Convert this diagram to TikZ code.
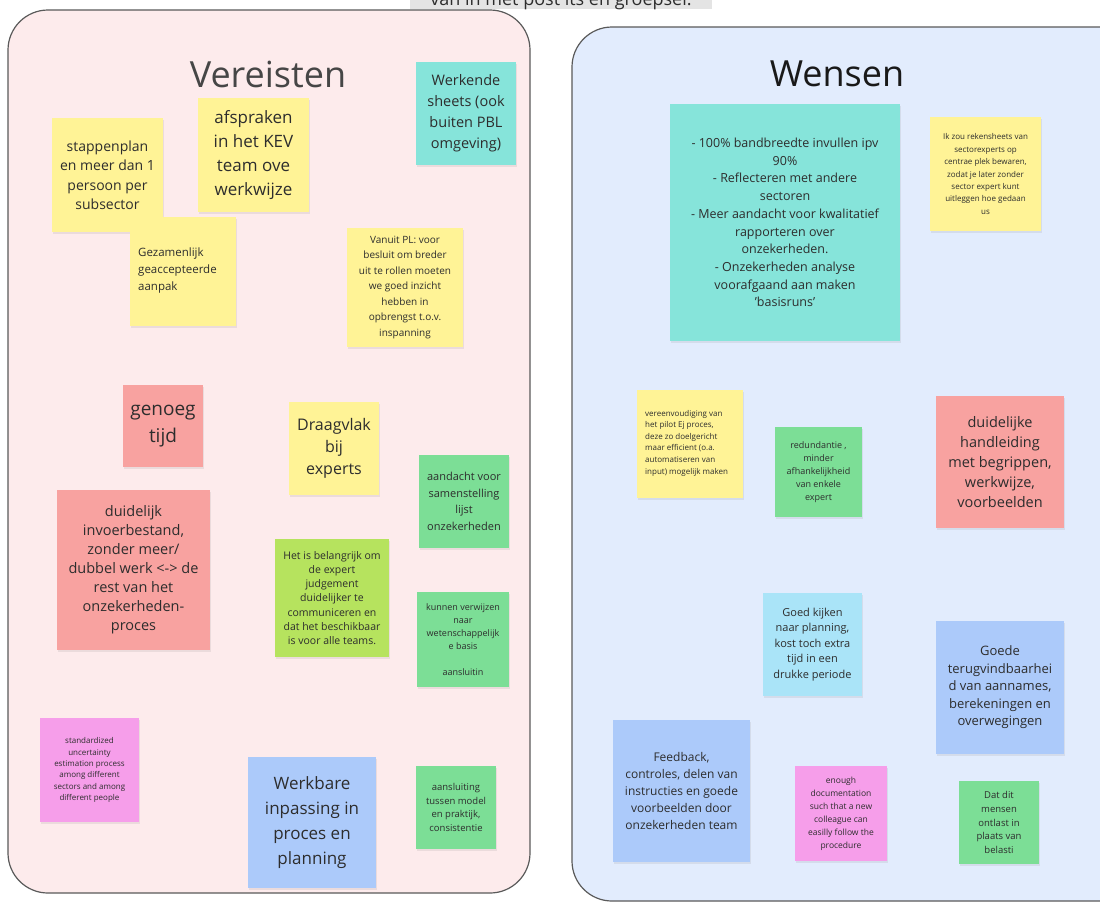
\documentclass[tikz,border=0pt]{standalone}
\usepackage{fontspec}
\setmainfont{Open Sans}
\usetikzlibrary{shadows}

\definecolor{pinkbg}{RGB}{253,235,236}
\definecolor{bluebg}{RGB}{226,236,253}
\definecolor{panelline}{RGB}{90,90,90}
\definecolor{ink}{RGB}{45,45,45}
\definecolor{styellow}{RGB}{255,243,150}
\definecolor{stteal}{RGB}{134,228,218}
\definecolor{stsalmon}{RGB}{248,162,160}
\definecolor{stgreen}{RGB}{124,222,150}
\definecolor{stlime}{RGB}{182,227,94}
\definecolor{stpink}{RGB}{246,158,234}
\definecolor{stblue}{RGB}{172,202,250}
\definecolor{stcyan}{RGB}{170,228,248}
\definecolor{bandgray}{RGB}{228,228,228}

\newcommand{\fs}[2]{\fontsize{#1}{#2}\selectfont}

\tikzset{
  panel/.style={draw=panelline, line width=1.2pt, rounded corners=40pt},
  sticky/.style={draw=none, inner sep=0pt, align=center, text=ink,
    drop shadow={shadow xshift=0.6pt, shadow yshift=-2pt, opacity=0.14}},
  title/.style={font=\fs{36}{40}}
}

\begin{document}
\begin{tikzpicture}[x=1pt, y=-1pt]
\useasboundingbox (0,0) rectangle (1100,903);
\clip (0,0) rectangle (1100,903);
\fill[white] (0,0) rectangle (1100,903);

% caption strip at the top edge
\fill[bandgray] (410,-12) rectangle (712,9);
\node[anchor=base, text=ink, font=\fs{18}{20}] (caption) at (561,5) {van in met post its en groepsel.};

% the two panels
\draw[panel, fill=pinkbg] (8,10) rectangle (530,893);
\draw[panel, fill=bluebg] (572,27) rectangle (1150,901);

\node[title, text={rgb,255:red,70;green,70;blue,70}] (tv) at (268,74) {Vereisten};
\node[title, text={rgb,255:red,25;green,25;blue,25}] (tw) at (837,74) {Wensen};

% ---- Vereisten ----
\node[sticky, fill=styellow, minimum width=111, minimum height=114, font=\fs{14}{19.5}] (v1) at (107.5,175)
  {stappenplan\\en meer dan 1\\persoon per\\subsector};
\node[sticky, fill=styellow, minimum width=111, minimum height=114, font=\fs{17}{24}] (v2) at (253.5,155)
  {afspraken\\in het KEV\\team ove\\werkwijze};
\node[sticky, fill=styellow, minimum width=106, minimum height=109] (v3) at (183,271.5) {};
\node[anchor=west, align=left, text=ink, font=\fs{11.5}{17}, inner sep=0pt] (v3t) at (138,271)
  {Gezamenlijk\\geaccepteerde\\aanpak};
\node[sticky, fill=stteal, minimum width=100, minimum height=103, font=\fs{14.5}{21}] (v4) at (466,113.5)
  {Werkende\\sheets (ook\\buiten PBL\\omgeving)};
\node[sticky, fill=styellow, minimum width=116, minimum height=119, font=\fs{10}{15.5}] (v5) at (405,287.5)
  {Vanuit PL: voor\\besluit om breder\\uit te rollen moeten\\we goed inzicht\\hebben in\\opbrengst t.o.v.\\inspanning};
\node[sticky, fill=stsalmon, minimum width=80, minimum height=82, font=\fs{19}{27}] (v6) at (163,426)
  {genoeg\\tijd};
\node[sticky, fill=styellow, minimum width=90, minimum height=93, font=\fs{16}{22}] (v7) at (334,448.5)
  {Draagvlak\\bij\\experts};
\node[sticky, fill=stgreen, minimum width=90, minimum height=93, font=\fs{11}{16.5}] (v8) at (464,501.5)
  {aandacht voor\\samenstelling\\lijst\\onzekerheden};
\node[sticky, fill=stsalmon, minimum width=153, minimum height=160, font=\fs{14.5}{19}] (v9) at (133.5,570)
  {duidelijk\\invoerbestand,\\zonder meer/\\dubbel werk <-> de\\rest van het\\onzekerheden-\\proces};
\node[sticky, fill=stlime, minimum width=114, minimum height=118, font=\fs{10.5}{14.3}] (v10) at (332,598)
  {Het is belangrijk om\\de expert\\judgement\\duidelijker te\\communiceren en\\dat het beschikbaar\\is voor alle teams.};
\node[sticky, fill=stgreen, minimum width=92, minimum height=95, font=\fs{9}{13}] (v11) at (463,639.5)
  {kunnen verwijzen\\naar\\wetenschappelijk\\e basis\\[13pt]aansluitin};
\node[sticky, fill=stpink, minimum width=99, minimum height=104, font=\fs{8}{11.3}] (v12) at (89.5,770)
  {standardized\\uncertainty\\estimation process\\among different\\sectors and among\\different people};
\node[sticky, fill=stblue, minimum width=128, minimum height=131, font=\fs{17}{25}] (v13) at (312,822.5)
  {Werkbare\\inpassing in\\proces en\\planning};
\node[sticky, fill=stgreen, minimum width=80, minimum height=83, font=\fs{9.5}{13.7}] (v14) at (456,807.5)
  {aansluiting\\tussen model\\en praktijk,\\consistentie};

% ---- Wensen ----
\node[sticky, fill=stteal, minimum width=230, minimum height=237, font=\fs{12.5}{17.7}] (w1) at (785,222.5)
  {- 100\% bandbreedte invullen ipv\\90\%\\- Reflecteren met andere\\sectoren\\- Meer aandacht voor kwalitatief\\rapporteren over\\onzekerheden.\\- Onzekerheden analyse\\voorafgaand aan maken\\'basisruns'};
\node[sticky, fill=styellow, minimum width=111, minimum height=114, font=\fs{8}{12.4}] (w2) at (985.5,174)
  {Ik zou rekensheets van\\sectorexperts op\\centrae plek bewaren,\\zodat je later zonder\\sector expert kunt\\uitleggen hoe gedaan\\us};
\node[sticky, fill=styellow, minimum width=106, minimum height=108] (w3) at (690,444) {};
\node[anchor=west, align=left, text=ink, font=\fs{8}{11.6}, inner sep=0pt] (w3t) at (645,443)
  {vereenvoudiging van\\het pilot Ej proces,\\deze zo doelgericht\\maar efficient (o.a.\\automatiseren van\\input) mogelijk maken};
\node[sticky, fill=stgreen, minimum width=87, minimum height=90, font=\fs{9}{13}] (w4) at (818.5,472)
  {redundantie ,\\minder\\afhankelijkheid\\van enkele\\expert};
\node[sticky, fill=stsalmon, minimum width=128, minimum height=132, font=\fs{14.5}{20}] (w5) at (1000,462)
  {duidelijke\\handleiding\\met begrippen,\\werkwijze,\\voorbeelden};
\node[sticky, fill=stcyan, minimum width=99, minimum height=103, font=\fs{11}{15.5}] (w6) at (812.5,644.5)
  {Goed kijken\\naar planning,\\kost toch extra\\tijd in een\\drukke periode};
\node[sticky, fill=stblue, minimum width=128, minimum height=133, font=\fs{13}{17.5}] (w7) at (1000,687.5)
  {Goede\\terugvindbaarhei\\d van aannames,\\berekeningen en\\overwegingen};
\node[sticky, fill=stblue, minimum width=137, minimum height=142, font=\fs{12}{17}] (w8) at (681.5,791)
  {Feedback,\\controles, delen van\\instructies en goede\\voorbeelden door\\onzekerheden team};
\node[sticky, fill=stpink, minimum width=92, minimum height=95, font=\fs{8.5}{13}] (w9) at (841,813.5)
  {enough\\documentation\\such that a new\\colleague can\\easilly follow the\\procedure};
\node[sticky, fill=stgreen, minimum width=80, minimum height=83, font=\fs{9.5}{13.7}] (w10) at (999,822.5)
  {Dat dit\\mensen\\ontlast in\\plaats van\\belasti};
\end{tikzpicture}
\end{document}
